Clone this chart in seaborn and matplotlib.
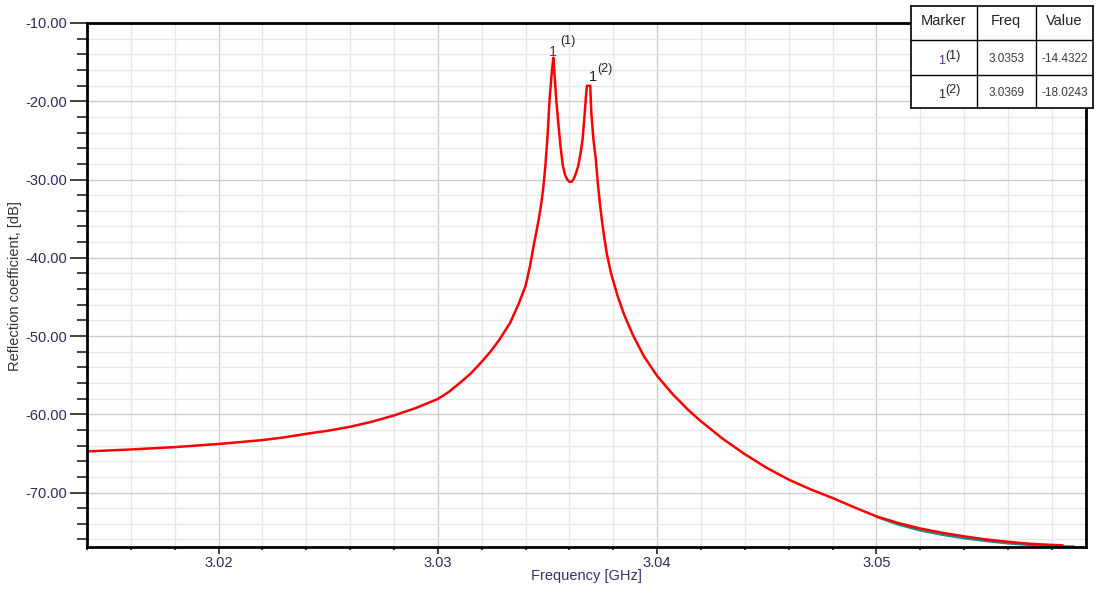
import matplotlib
matplotlib.use("Agg")
import matplotlib.pyplot as plt
import seaborn as sns
from matplotlib.ticker import MultipleLocator, FixedLocator

# ---- data ----
freq = [3.0140, 3.0160, 3.0180, 3.0200, 3.0220, 3.0230, 3.0240, 3.0250, 3.0260, 3.0270,
        3.0280, 3.0290, 3.0300, 3.0305, 3.0310, 3.0315, 3.0320, 3.0324, 3.0328, 3.0333,
        3.0337, 3.0340, 3.0342, 3.0344, 3.0345, 3.0346, 3.0347, 3.0348, 3.0349, 3.0350,
        3.0351, 3.0352, 3.03527, 3.0354, 3.0355, 3.0356, 3.0357, 3.0358, 3.0359, 3.0360,
        3.0361, 3.0362, 3.0363, 3.0364, 3.0365, 3.0366, 3.0367, 3.03675, 3.0368, 3.0369,
        3.03695, 3.0370, 3.0371, 3.0372, 3.0373, 3.0374, 3.0375, 3.0376, 3.0377, 3.0379,
        3.0382, 3.0385, 3.0389, 3.0394, 3.0400, 3.0407, 3.0414, 3.0420, 3.0430, 3.0440,
        3.0450, 3.0460, 3.0470, 3.0480, 3.0490, 3.0500, 3.0510, 3.0520, 3.0530, 3.0540,
        3.0550, 3.0560, 3.0570, 3.0580, 3.0585]
s11 = [-64.75, -64.5, -64.2, -63.8, -63.3, -62.95, -62.5, -62.1, -61.6, -60.95,
       -60.15, -59.2, -58.05, -57.15, -56.0, -54.8, -53.3, -52.0, -50.5, -48.3,
       -45.8, -43.6, -41.1, -38.0, -36.6, -35.1, -33.4, -31.3, -28.4, -24.6,
       -19.6, -16.2, -14.43, -19.8, -23.0, -25.9, -28.2, -29.4, -30.0, -30.3,
       -30.3, -29.9, -29.2, -28.3, -26.8, -24.9, -21.5, -19.5, -18.02, -18.02,
       -18.02, -21.5, -25.0, -27.3, -30.6, -33.3, -35.6, -37.6, -39.4, -42.0,
       -44.9, -47.3, -49.9, -52.6, -55.1, -57.4, -59.4, -60.9, -63.15, -65.1,
       -66.85, -68.35, -69.6, -70.7, -71.9, -73.05, -73.9, -74.6, -75.15, -75.6,
       -76.0, -76.3, -76.55, -76.7, -76.75]

teal_freq = [3.0500, 3.0510, 3.0520, 3.0530, 3.0540, 3.0550, 3.0560, 3.0570, 3.0580, 3.0590]
teal_s11 = [-73.1, -74.1, -74.85, -75.4, -75.85, -76.2, -76.5, -76.7, -76.85, -76.9]

x_major = [3.02, 3.03, 3.04, 3.05]
x_labels = ["3.02", "3.03", "3.04", "3.05"]
y_major = [-10, -20, -30, -40, -50, -60, -70]
y_labels = ["-10.00", "-20.00", "-30.00", "-40.00", "-50.00", "-60.00", "-70.00"]

marker_ids = ["(1)", "(2)"]
marker_freq = [3.0353, 3.0369]
marker_pos = [3.03527, 3.0369]
marker_val = [-14.4322, -18.0243]
table_header = ["Marker", "Freq", "Value"]

# ---- style ----
sns.set_style("white")
plt.rcParams["font.family"] = ["Liberation Sans", "DejaVu Sans"]

W, H = 1096, 590
fig = plt.figure(figsize=(W / 100, H / 100), dpi=100)
L, R, T, B = 87, 1086, 23, 546.5
ax = fig.add_axes([L / W, 1 - B / H, (R - L) / W, (B - T) / H])

sns.lineplot(x=teal_freq, y=teal_s11, color="#1a8c8c", lw=1.7, ax=ax, estimator=None, sort=False)
sns.lineplot(x=freq, y=s11, color="#ff0000", lw=1.8, ax=ax, estimator=None, sort=False)

ax.set_xlim(3.0140, 3.05956)
ax.set_ylim(-76.9, -10)

ax.xaxis.set_major_locator(FixedLocator(x_major))
ax.set_xticklabels(x_labels)
ax.xaxis.set_minor_locator(MultipleLocator(0.002))
ax.yaxis.set_major_locator(FixedLocator(y_major))
ax.set_yticklabels(y_labels)
ax.yaxis.set_minor_locator(MultipleLocator(2))

ax.set_axisbelow(True)
ax.grid(which="major", color="#cdcdcd", lw=1.0)
ax.grid(which="minor", color="#e8e8e8", lw=1.0)

tick_col = "#2e2a5c"
ax.tick_params(axis="y", which="major", direction="out", length=12, width=1.3,
               color="#333333", labelsize=10.5, labelcolor=tick_col, pad=2)
ax.tick_params(axis="y", which="minor", direction="out", length=7, width=1.3, color="#333333")
ax.tick_params(axis="x", which="major", direction="out", length=5, width=1.3,
               color="#333333", labelsize=10.5, labelcolor=tick_col, pad=2)
ax.tick_params(axis="x", which="minor", direction="out", length=2.5, width=1.3, color="#333333")
ax.tick_params(left=True, bottom=True, which="both")

for sp in ax.spines.values():
    sp.set_color("black")
    sp.set_linewidth(2)

ax.set_xlabel("")
ax.set_ylabel("")
fig.text((L + R) / 2 / W, 1 - 576 / H, "Frequency [GHz]", ha="center", va="center",
         fontsize=10.5, color="#3a2d70")
fig.text(15 / W, 1 - 286 / H, "Reflection coefficient, [dB]", ha="center", va="center",
         rotation=90, fontsize=10.5, color="#333333")

# ---- marker labels ----
m_cols = ["#5a2d82", "#222222"]
offs = [((0, 1), (5, 9.5)), ((2.5, 3.6), (6, 10))]
for i in range(2):
    (dx1, dy1), (dx2, dy2) = offs[i]
    ax.annotate("1", xy=(marker_pos[i], marker_val[i]), xytext=(dx1, dy1),
                textcoords="offset points", ha="center", va="baseline",
                fontsize=10.5, color=m_cols[i])
    ax.annotate(marker_ids[i], xy=(marker_pos[i], marker_val[i]), xytext=(dx2, dy2),
                textcoords="offset points", ha="left", va="baseline",
                fontsize=9, color="#222222")

# ---- marker table ----
tx0, tx1, ty0, ty1 = 911, 1093, 6, 108
tax = fig.add_axes([tx0 / W, 1 - ty1 / H, (tx1 - tx0) / W, (ty1 - ty0) / H], zorder=5)
tax.set_xlim(tx0, tx1)
tax.set_ylim(ty1, ty0)
tax.set_facecolor("white")
for sp in tax.spines.values():
    sp.set_color("black")
    sp.set_linewidth(1.2)
tax.set_xticks([])
tax.set_yticks([])
col_edges = [911, 976.5, 1036, 1093]
row_edges = [6, 40, 75, 108]
for xe in col_edges[1:-1]:
    tax.axvline(xe, color="black", lw=1.0)
for ye in row_edges[1:-1]:
    tax.axhline(ye, color="black", lw=1.0)
ccx = [(col_edges[j] + col_edges[j + 1]) / 2 for j in range(3)]
for j, h in enumerate(table_header):
    tax.text(ccx[j], 21, h, ha="center", va="center", fontsize=10.5, color="#222222")
val_col = "#3a3a48"
for i in range(2):
    yc = (row_edges[i + 1] + row_edges[i + 2]) / 2
    tax.text(ccx[0] + 1, yc + 7, "1", ha="right", va="baseline", fontsize=9,
             color=m_cols[i])
    tax.text(ccx[0] + 1.5, yc + 1, marker_ids[i], ha="left", va="baseline", fontsize=9,
             color="#222222")
    tax.text(ccx[1], yc + 2, f"{marker_freq[i]:.4f}", ha="center", va="center",
             fontsize=8.5, color=val_col)
    tax.text(ccx[2], yc + 2, f"{marker_val[i]:.4f}", ha="center", va="center",
             fontsize=8.5, color=val_col)

fig.savefig("out.png", dpi=100, facecolor="white")
